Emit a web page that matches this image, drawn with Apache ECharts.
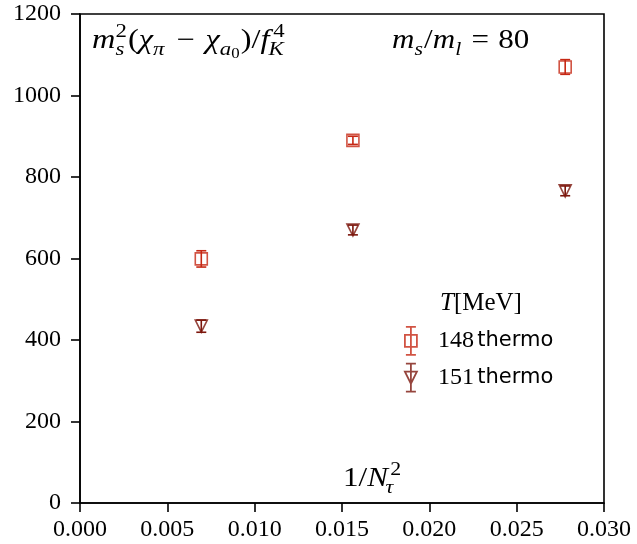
<!DOCTYPE html>
<html><head><meta charset="utf-8">
<script src="https://cdn.jsdelivr.net/npm/echarts@6/dist/echarts.min.js"></script>
<style>html,body{margin:0;padding:0;background:#fff}#c{width:637px;height:544px}</style>
</head><body><div id="c"></div>
<script>
const xVals = [0.006944, 0.015625, 0.027778];
const y148 = [599, 890, 1070];
const err148 = [20, 10, 18];
const y151 = [434, 670, 766];
const err151 = [15, 12, 12];
const xTicks = [0, 0.005, 0.01, 0.015, 0.02, 0.025, 0.03];
const yTicks = [0, 200, 400, 600, 800, 1000, 1200];
const names = ['148 thermo', '151 thermo'];
const col148 = '#c62814';
const col151 = '#7c160c';

const SERIF = 'Liberation Serif';
const SANS = 'DejaVu Sans';

const ctx = document.createElement('canvas').getContext('2d');
function fontStr(size, it) { return (it ? 'italic ' : '') + size + 'px "' + SERIF + '"'; }
function measure(t, size, it) { ctx.font = fontStr(size, it); return ctx.measureText(t).width; }
function txt(t, x, baseline, size, it) {
  return { type: 'text', x: x, y: baseline - 0.33 * size,
    style: { text: t, font: fontStr(size, it), fill: '#000', verticalAlign: 'middle', align: 'left' } };
}
// tokens: {t, it, sub, subsub, sup, gap}
function mathText(x0, base, F, sx, tokens) {
  const FS = Math.round(F * 0.7), FSS = Math.round(F * 0.5);
  const children = [];
  let x = 0;
  tokens.forEach(tk => {
    if (tk.gap) { x += tk.gap; return; }
    if (tk.t) { children.push(txt(tk.t, x, 0, F, tk.it)); x += measure(tk.t, F, tk.it); }
    let adv = 0;
    if (tk.sub) {
      children.push(txt(tk.sub, x + (tk.subKern || 0), 0.22 * F, FS, tk.subIt !== false));
      let w = measure(tk.sub, FS, tk.subIt !== false) + (tk.subKern || 0);
      if (tk.subsub) { children.push(txt(tk.subsub, x + w, 0.34 * F, FSS, false)); w += measure(tk.subsub, FSS, false); }
      adv = Math.max(adv, w);
    }
    if (tk.sup) {
      children.push(txt(tk.sup, x + (tk.supKern || 0), -0.42 * F, FS, false));
      adv = Math.max(adv, measure(tk.sup, FS, false) + (tk.supKern || 0));
    }
    x += adv + (adv ? 1 : 0);
  });
  return { type: 'group', x: x0, y: base, scaleX: sx, z: 10, children: children };
}

function errSeries(ys, es, color) {
  return {
    type: 'custom', silent: true, z: 2,
    data: xVals.map((x, i) => [x, ys[i], es[i]]),
    renderItem: function (params, api) {
      const x = api.value(0), y = api.value(1), e = api.value(2);
      const lo = api.coord([x, y - e]), hi = api.coord([x, y + e]);
      const w = 5;
      const st = { stroke: color, lineWidth: 1.6 };
      return { type: 'group', children: [
        { type: 'line', shape: { x1: lo[0], y1: lo[1], x2: hi[0], y2: hi[1] }, style: st },
        { type: 'line', shape: { x1: lo[0] - w, y1: lo[1], x2: lo[0] + w, y2: lo[1] }, style: st },
        { type: 'line', shape: { x1: hi[0] - w, y1: hi[1], x2: hi[0] + w, y2: hi[1] }, style: st }
      ]};
    }
  };
}

const iconSq = 'path://M1,0 L11,0 M6,0 L6,28 M1,28 L11,28 M0,8 L12,8 L12,20 L0,20 Z';
const iconTr = 'path://M1,0 L11,0 M6,0 L6,28 M1,28 L11,28 M0,8 L12,8 L6,20 Z';

const chart = echarts.init(document.getElementById('c'));
chart.setOption({
  animation: false,
  backgroundColor: '#fff',
  grid: { left: 80, right: 33, top: 14, bottom: 41, show: true, borderColor: '#000', borderWidth: 1.6, backgroundColor: 'transparent' },
  xAxis: {
    type: 'value', min: 0, max: 0.03, interval: 0.005,
    axisLine: { show: true, onZero: false, lineStyle: { color: '#000', width: 1.6 } },
    axisTick: { show: true, inside: false, length: 9, lineStyle: { color: '#000', width: 1.6 } },
    splitLine: { show: false },
    axisLabel: { fontFamily: SERIF, fontSize: 24, color: '#000', margin: 15,
      formatter: v => { const t = xTicks.find(k => Math.abs(k - v) < 1e-9); return (t !== undefined ? t : v).toFixed(3); } }
  },
  yAxis: {
    type: 'value', min: 0, max: 1200, interval: 200,
    axisLine: { show: true, onZero: false, lineStyle: { color: '#000', width: 1.6 } },
    axisTick: { show: true, inside: false, length: 9, lineStyle: { color: '#000', width: 1.6 } },
    splitLine: { show: false },
    axisLabel: { fontFamily: SERIF, fontSize: 24, color: '#000', margin: 19,
      formatter: v => String(yTicks.find(k => k === v) ?? v) }
  },
  legend: {
    orient: 'vertical', left: 399, top: 321, itemGap: 7, itemWidth: 12, itemHeight: 28,
    selectedMode: false,
    data: [
      { name: names[0], icon: iconSq, itemStyle: { color: 'transparent', borderColor: col148, borderWidth: 1.8 } },
      { name: names[1], icon: iconTr, itemStyle: { color: 'transparent', borderColor: col151, borderWidth: 1.8 } }
    ],
    formatter: n => { const p = n.split(' '); return '{n|' + p[0] + '} {t|' + p[1] + '}'; },
    textStyle: { color: '#000', padding: [0, 0, 0, 16],
      rich: { n: { fontFamily: SERIF, fontSize: 24, color: '#000' }, t: { fontFamily: SANS, fontSize: 21, color: '#000' } } }
  },
  graphic: [
    mathText(440, 312, 25, 1, [{ t: 'T', it: true }, { t: '[MeV]' }]),
    mathText(92, 50, 27, 1.2, [
      { t: 'm', it: true, sub: 's', sup: '2' }, { t: '(' }, { t: 'χ', it: true, sub: 'π' },
      { gap: 9 }, { t: '−' }, { gap: 9 },
      { t: 'χ', it: true, sub: 'a', subsub: '0' }, { t: ')/' },
      { t: 'f', it: true, sub: 'K', sup: '4', subKern: -1, supKern: 3 }
    ]),
    mathText(392, 50, 27, 1.15, [
      { t: 'm', it: true, sub: 's' }, { t: '/' }, { t: 'm', it: true, sub: 'l' },
      { gap: 8 }, { t: '=' }, { gap: 8 }, { t: '80' }
    ]),
    mathText(343, 488, 27, 1.15, [{ t: '1/' }, { t: 'N', it: true, sub: 'τ', sup: '2', subKern: -2, supKern: 2 }])
  ],
  series: [
    errSeries(y148, err148, col148),
    errSeries(y151, err151, col151),
    { name: names[0], type: 'scatter', z: 3, symbol: 'rect', symbolSize: 12,
      data: xVals.map((x, i) => [x, y148[i]]),
      itemStyle: { color: 'transparent', borderColor: col148, borderWidth: 1.6 } },
    { name: names[1], type: 'scatter', z: 3, symbol: 'triangle', symbolRotate: 180, symbolSize: 12,
      data: xVals.map((x, i) => [x, y151[i]]),
      itemStyle: { color: 'transparent', borderColor: col151, borderWidth: 1.6 } }
  ]
});
</script></body></html>
